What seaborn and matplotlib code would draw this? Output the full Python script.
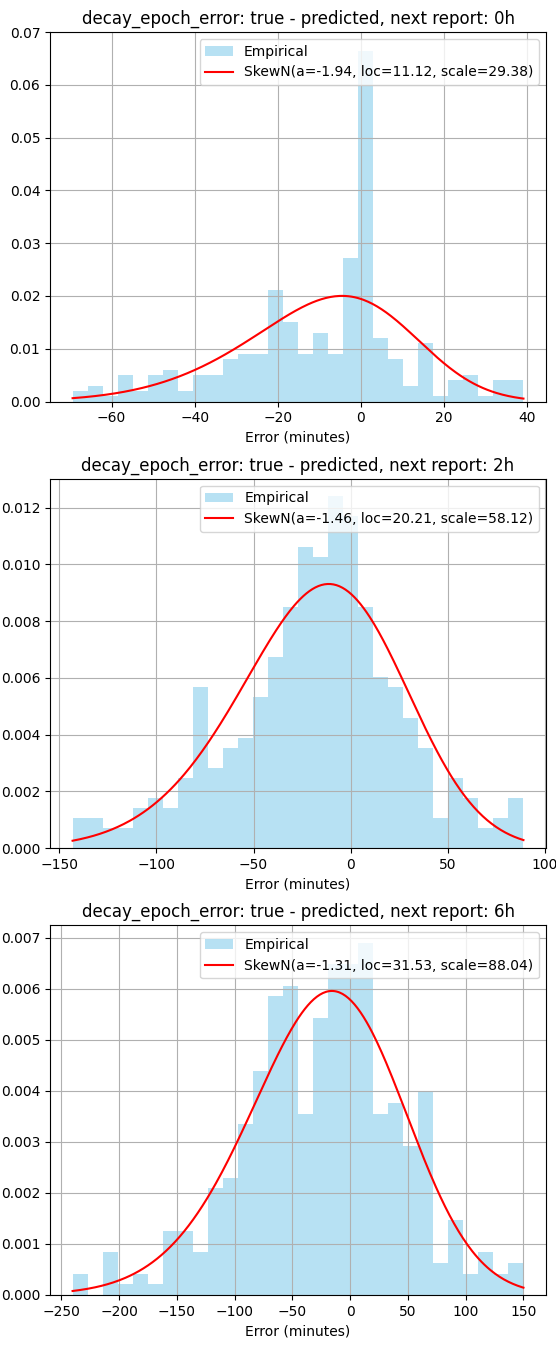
import math
import numpy as np
import matplotlib
matplotlib.use("Agg")
import matplotlib.pyplot as plt
import seaborn as sns

# histogram counts per bin (30 bins)
counts_0h = [2, 3, 1, 5, 2, 5, 6, 2, 5, 5, 8, 9, 9, 21, 15, 9, 13, 9, 27, 66,
             12, 8, 3, 11, 1, 4, 5, 1, 4, 4]
counts_2h = [3, 3, 2, 2, 4, 5, 4, 7, 16, 8, 10, 11, 15, 19, 24, 30, 29, 35, 33, 24,
             17, 16, 13, 10, 3, 7, 5, 2, 3, 5]
counts_6h = [2, 0, 4, 1, 2, 1, 6, 6, 4, 10, 11, 16, 21, 28, 29, 17, 26, 31, 31, 33,
             17, 18, 14, 19, 3, 7, 2, 4, 2, 3]

# data range (min, max) of each error sample
range_0h = (-69.4, 39.1)
range_2h = (-143.1, 88.9)
range_6h = (-240.2, 150.0)

# fitted skew-normal parameters (a, loc, scale)
fit_0h = (-1.94, 11.12, 29.38)
fit_2h = (-1.46, 20.21, 58.12)
fit_6h = (-1.31, 31.53, 88.04)

hours = ["0h", "2h", "6h"]
all_counts = [counts_0h, counts_2h, counts_6h]
all_ranges = [range_0h, range_2h, range_6h]
all_fits = [fit_0h, fit_2h, fit_6h]

_erf = np.vectorize(math.erf)


def skewnorm_pdf(x, a, loc, scale):
    z = (x - loc) / scale
    phi = np.exp(-0.5 * z ** 2) / np.sqrt(2 * np.pi)
    cdf = 0.5 * (1 + _erf(a * z / np.sqrt(2)))
    return 2 / scale * phi * cdf


fig, axes = plt.subplots(3, 1, figsize=(5.56, 13.52), dpi=100)
fig.subplots_adjust(left=0.09, right=0.982, top=0.9763, bottom=0.0422, hspace=0.209)

for ax, h, counts, (lo, hi), (a, loc, scale) in zip(axes, hours, all_counts, all_ranges, all_fits):
    edges = np.linspace(lo, hi, len(counts) + 1)
    centers = (edges[:-1] + edges[1:]) / 2
    sns.histplot(x=centers, weights=counts, bins=len(counts), binrange=(lo, hi),
                 stat="density", color="skyblue", alpha=0.6, linewidth=0,
                 label="Empirical", ax=ax)
    xs = np.linspace(lo, hi, 300)
    ax.plot(xs, skewnorm_pdf(xs, a, loc, scale), color="red", lw=1.5,
            label=f"SkewN(a={a:.2f}, loc={loc:.2f}, scale={scale:.2f})")
    ax.set_title(f"decay_epoch_error: true - predicted, next report: {h}")
    ax.set_xlabel("Error (minutes)")
    ax.set_ylabel("")
    ax.grid(True)
    handles, labels = ax.get_legend_handles_labels()
    ax.legend(handles[::-1], labels[::-1], loc="upper right")

axes[0].set_ylim(0, 0.07)

plt.savefig("out.png")
